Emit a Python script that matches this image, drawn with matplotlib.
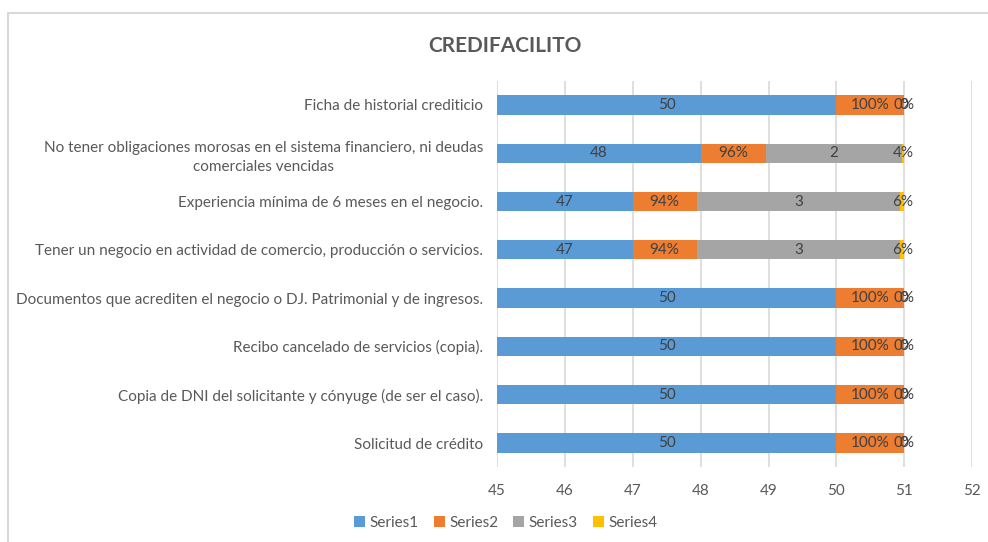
import numpy as np
import matplotlib.pyplot as plt
from matplotlib.patches import Rectangle

plt.rcParams['font.family'] = ['Lato', 'DejaVu Sans']

categories = ["Solicitud de crédito",
              "Copia de DNI del solicitante y cónyuge (de ser el caso).",
              "Recibo cancelado de servicios (copia).",
              "Documentos que acrediten el negocio o DJ. Patrimonial y de ingresos.",
              "Tener un negocio en actividad de comercio, producción o servicios.",
              "Experiencia mínima de 6 meses en el negocio.",
              "No tener obligaciones morosas en el sistema financiero, ni deudas\ncomerciales vencidas",
              "Ficha de historial crediticio"]
series1 = [50, 50, 50, 50, 47, 47, 48, 50]
series2 = [1.0, 1.0, 1.0, 1.0, 0.94, 0.94, 0.96, 1.0]
series3 = [0, 0, 0, 0, 3, 3, 2, 0]
series4 = [0.0, 0.0, 0.0, 0.0, 0.06, 0.06, 0.04, 0.0]
names = ["Series1", "Series2", "Series3", "Series4"]
colors = ["#5B9BD5", "#ED7D31", "#A5A5A5", "#FFC000"]
xmin, xmax = 45, 52

fig = plt.figure(figsize=(9.88, 5.42), dpi=100)
ax = fig.add_axes([0.503, 0.138, 0.481, 0.713])

y = np.arange(len(categories))
left = np.zeros(len(categories))
all_series = [series1, series2, series3, series4]
for i, vals in enumerate(all_series):
    vals = np.array(vals, dtype=float)
    ax.barh(y, vals, left=left, height=0.4, color=colors[i], label=names[i], zorder=3)
    for k in range(len(y)):
        a = max(left[k], xmin)
        b = left[k] + vals[k]
        if i in (1, 3):
            txt = f"{vals[k]:.0%}"
        else:
            txt = f"{vals[k]:.0f}"
        ax.text((a + b) / 2, y[k], txt, ha='center', va='center',
                fontsize=11, color='#404040', zorder=4)
    left = left + vals

ax.set_xlim(xmin, xmax)
ax.set_ylim(-0.5, len(categories) - 0.5)
ax.set_xticks(range(xmin, xmax + 1))
ax.set_yticks(y)
ax.set_yticklabels(categories, multialignment='center', linespacing=1.45)
ax.tick_params(axis='both', length=0, labelsize=11, colors='#595959')
ax.tick_params(axis='x', pad=12)
ax.tick_params(axis='y', pad=10)
ax.grid(axis='x', color='#D9D9D9', linewidth=1.2, zorder=0)
for s in ax.spines.values():
    s.set_visible(False)

fig.text(0.511, 0.915, "CREDIFACILITO", ha='center', va='center',
         fontsize=15, fontweight='bold', color='#595959')

handles, labels = ax.get_legend_handles_labels()
fig.legend(handles, labels, loc='center', bbox_to_anchor=(0.512, 0.035), ncol=4,
           frameon=False, fontsize=11, labelcolor='#595959',
           handlelength=0.7, handleheight=0.7, handletextpad=0.3, columnspacing=1.0)

fig.patches.append(Rectangle((8 / 988, -0.1), 1.2, 1 - 13 / 542 + 0.1,
                             transform=fig.transFigure, fill=False,
                             edgecolor='#D9D9D9', linewidth=1.5))

fig.savefig("out.png", dpi=100)
